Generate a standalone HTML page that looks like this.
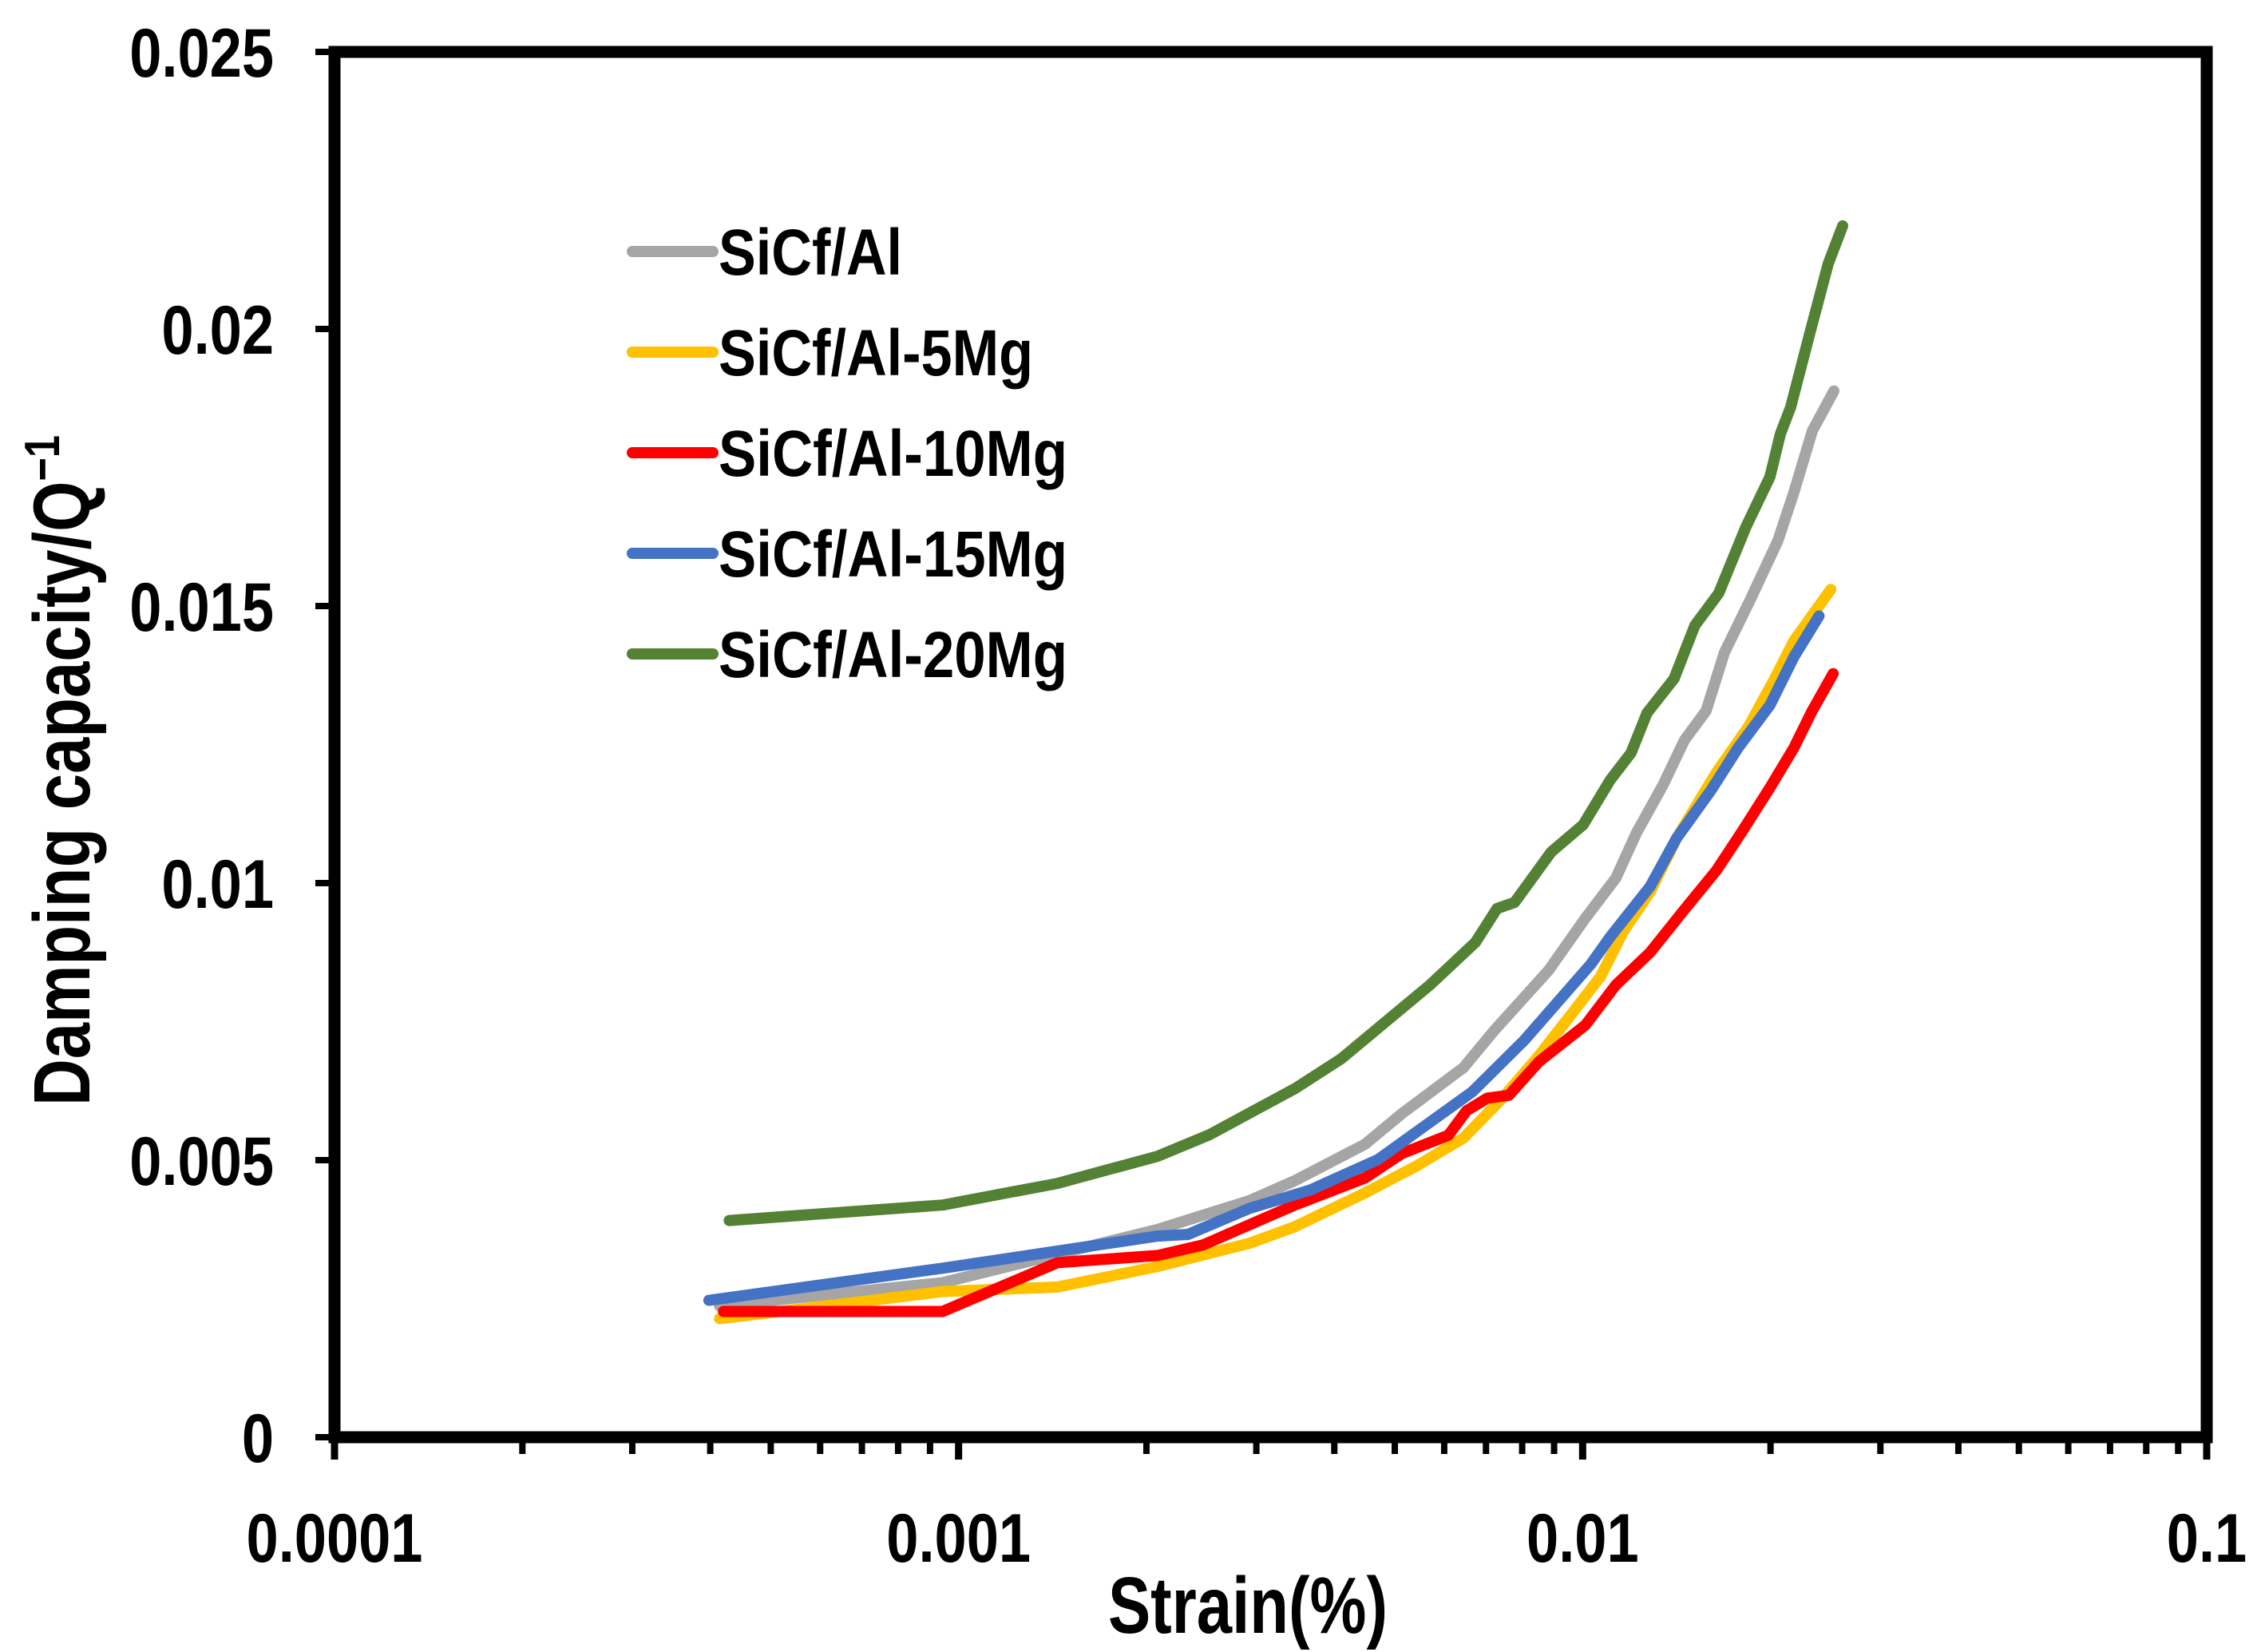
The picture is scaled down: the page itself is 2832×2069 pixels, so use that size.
<!DOCTYPE html>
<html><head><meta charset="utf-8"><style>
html,body{margin:0;padding:0;background:#fff;}
svg{display:block;font-family:"Liberation Sans",Arial,sans-serif;font-weight:bold;}
</style></head><body>
<svg id="chart" width="2832" height="2069" viewBox="0 0 2832 2069" xmlns="http://www.w3.org/2000/svg">
<rect width="2832" height="2069" fill="#fff"/>
<g id="axes"></g>
<g id="series"></g>
<g id="legend"></g>
<text x="1563" y="2045" font-size="100" text-anchor="middle" textLength="350" lengthAdjust="spacingAndGlyphs">Strain(%)</text>
<text transform="translate(112,965) rotate(-90)" font-size="100" text-anchor="middle" textLength="840" lengthAdjust="spacingAndGlyphs">Damping capacity/Q<tspan font-size="62" dy="-38">−1</tspan></text>
</svg>
<script>
const seriesNames = ["SiCf/Al","SiCf/Al-5Mg","SiCf/Al-10Mg","SiCf/Al-15Mg","SiCf/Al-20Mg"];
const seriesColors = ["#a5a5a5","#ffc000","#ff0000","#4472c4","#548235"];
const grayX = [0.000414,0.000943,0.002084,0.002925,0.003459,0.004483,0.005132,0.006443,0.007203,0.008826,0.010106,0.011302,0.012204,0.013453,0.014561,0.015771,0.016870,0.018589,0.020555,0.021803,0.023334,0.025264];
const grayY = [0.00237,0.00279,0.00375,0.00427,0.00463,0.00529,0.00584,0.00667,0.00733,0.00843,0.00937,0.01009,0.01091,0.01177,0.01258,0.01311,0.01416,0.01513,0.01618,0.01705,0.01816,0.01888];
const yellowX = [0.000414,0.000668,0.000943,0.00144,0.002084,0.002925,0.003459,0.004483,0.005430,0.006443,0.007438,0.008517,0.009557,0.010689,0.011607,0.012829,0.014142,0.016386,0.018433,0.020314,0.021803,0.024985];
const yellowY = [0.00214,0.00242,0.00263,0.00271,0.00308,0.00350,0.00380,0.00441,0.00490,0.00540,0.00612,0.00689,0.00761,0.00832,0.00912,0.00984,0.01081,0.01200,0.01282,0.01369,0.01437,0.01530];
const redX = [0.000420,0.000943,0.00144,0.002084,0.002465,0.003459,0.004483,0.005132,0.006094,0.006516,0.007035,0.007616,0.008517,0.010106,0.011302,0.012829,0.014432,0.016386,0.018054,0.019958,0.021803,0.0233,0.0252];
const redY = [0.00227,0.00227,0.00315,0.00328,0.00347,0.00419,0.00468,0.00512,0.00545,0.00589,0.00612,0.00617,0.00678,0.00744,0.00816,0.00875,0.00947,0.01023,0.01095,0.01172,0.01244,0.0131,0.01378];
const blueX = [0.000398,0.000943,0.002084,0.002332,0.002925,0.003658,0.004699,0.006652,0.008057,0.010314,0.011073,0.012829,0.014142,0.016046,0.017741,0.019958,0.021803,0.02392];
const blueY = [0.00247,0.00305,0.00363,0.00366,0.00413,0.00446,0.00501,0.00623,0.00716,0.00854,0.00903,0.00994,0.01081,0.01167,0.01244,0.01321,0.01408,0.01482];
const greenX = [0.000429,0.000943,0.00144,0.002084,0.002524,0.00347,0.004104,0.005690,0.006732,0.007291,0.007777,0.008904,0.010018,0.011073,0.011955,0.012682,0.014015,0.015128,0.016525,0.018268,0.019958,0.020746,0.021546,0.023133,0.024750,0.02610];
const greenY = [0.00391,0.00419,0.00458,0.00507,0.00546,0.00630,0.00683,0.00816,0.00893,0.00954,0.00965,0.01056,0.01105,0.01186,0.01235,0.01307,0.01369,0.01465,0.01523,0.01643,0.01733,0.01811,0.01859,0.01993,0.02118,0.02186];
const yTicks = [0,0.005,0.01,0.015,0.02,0.025];
const yTickLabels = ["0","0.005","0.01","0.015","0.02","0.025"];
const xTicks = [0.0001,0.001,0.01,0.1];
const xTickLabels = ["0.0001","0.001","0.01","0.1"];

const NS="http://www.w3.org/2000/svg";
const X0=419,X1=2764,Y0=1800,Y1=65;
function xs(v){return X0+(Math.log10(v)+4)/3*(X1-X0);}
function ys(v){return Y0-v/0.025*(Y0-Y1);}
function mk(tag,attrs,parent){const e=document.createElementNS(NS,tag);for(const k in attrs)e.setAttribute(k,attrs[k]);parent.appendChild(e);return e;}
const axes=document.getElementById('axes');
let e;
e=mk('rect',{x:X0,y:Y1,width:X1-X0,height:Y0-Y1,fill:'none',stroke:'#000','stroke-width':15},axes);


yTicks.forEach((t,i)=>{
  const y=ys(t);
  e=mk('line',{x1:395,x2:X0,y1:y,y2:y,stroke:'#000','stroke-width':8},axes);
  
  
  e=mk('text',{transform:`translate(343,${y+31}) scale(0.84,1)`,'font-size':86,'text-anchor':'end'},axes);
  e.textContent=yTickLabels[i];
  
  
});
xTicks.forEach((t,i)=>{
  const x=xs(t);
  e=mk('line',{x1:x,x2:x,y1:Y0,y2:1828,stroke:'#000','stroke-width':9},axes);
  
  
  e=mk('text',{transform:`translate(${x},1956) scale(0.84,1)`,'font-size':86,'text-anchor':'middle'},axes);
  e.textContent=xTickLabels[i];
  
  
  if(i<xTicks.length-1){for(let k=2;k<10;k++){
    const xm=xs(t*k);
    e=mk('line',{x1:xm,x2:xm,y1:Y0,y2:1821,stroke:'#000','stroke-width':8},axes);
    
    
  }}
});
const sx=[grayX,yellowX,redX,blueX,greenX], sy=[grayY,yellowY,redY,blueY,greenY];
const keys=['gray','yellow','red','blue','green'];
const sg=document.getElementById('series');
for(let s=0;s<5;s++){
  const d=sx[s].map((v,i)=>(i?'L':'M')+xs(v).toFixed(1)+' '+ys(sy[s][i]).toFixed(1)).join(' ');
  e=mk('path',{d:d,fill:'none',stroke:seriesColors[s],'stroke-width':14,'stroke-linejoin':'round','stroke-linecap':'round'},sg);
  
  
}
const lg=document.getElementById('legend');
const legendWidths=[230,394,437,437,437];
for(let s=0;s<5;s++){
  const cy=315+s*126;
  e=mk('line',{x1:792,x2:893,y1:cy,y2:cy,stroke:seriesColors[s],'stroke-width':14,'stroke-linecap':'round'},lg);
  
  
  e=mk('text',{x:900,y:cy+29,'font-size':82,textLength:legendWidths[s],lengthAdjust:'spacingAndGlyphs'},lg);
  e.textContent=seriesNames[s];
  
  
}
</script>
</body></html>
